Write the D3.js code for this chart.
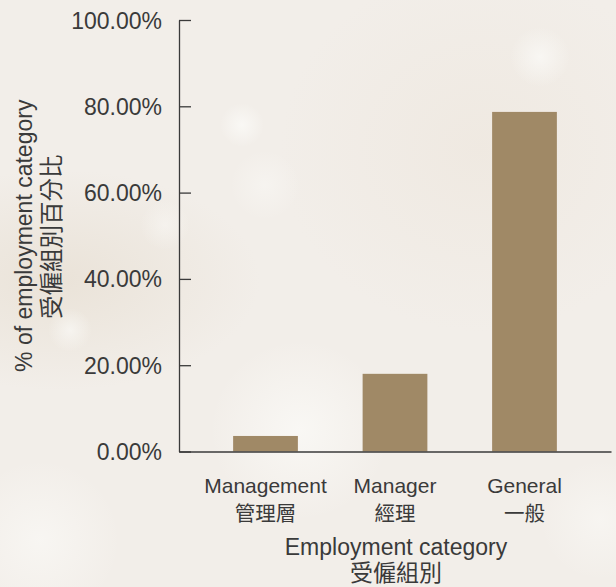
<!DOCTYPE html>
<html>
<head>
<meta charset="utf-8">
<script src="https://cdn.jsdelivr.net/npm/d3@7"></script>
<style>
  html, body { margin: 0; padding: 0; }
  body {
    width: 616px; height: 587px; overflow: hidden;
    background:
      radial-gradient(circle at 242px 125px, rgba(250,249,246,0.9) 0, rgba(250,249,246,0) 22px),
      radial-gradient(circle at 70px 330px, rgba(250,249,246,0.7) 0, rgba(250,249,246,0) 22px),
      radial-gradient(circle at 540px 57px, rgba(250,249,246,0.8) 0, rgba(250,249,246,0) 30px),
      radial-gradient(circle at 165px 225px, rgba(250,249,246,0.5) 0, rgba(250,249,246,0) 25px),
      radial-gradient(circle at 265px 185px, rgba(250,249,246,0.5) 0, rgba(250,249,246,0) 35px),
      radial-gradient(circle at 300px 430px, rgba(250,249,246,0.85) 0, rgba(250,249,246,0) 90px),
      radial-gradient(circle at 40px 540px, rgba(250,249,246,0.7) 0, rgba(250,249,246,0) 80px),
      radial-gradient(circle at 600px 520px, rgba(250,249,246,0.6) 0, rgba(250,249,246,0) 60px),
      radial-gradient(ellipse at 60px 280px, rgba(232,224,212,0.8) 0, rgba(232,224,212,0) 200px),
      radial-gradient(ellipse at 480px 150px, rgba(238,231,222,0.7) 0, rgba(238,231,222,0) 200px),
      #f2eee9;
  }
  svg { display: block; }
  text { fill: #3a3a3a; }
</style>
</head>
<body>
<svg id="chart" width="616" height="587"></svg>
<script>
// ---- data ----
const categoriesEn = ["Management", "Manager", "General"];
const categoriesZh = ["管理層", "經理", "一般"];
const shares = [0.036, 0.180, 0.787];
const yTicks = [0, 0.2, 0.4, 0.6, 0.8, 1.0];
const xTitle = ["Employment category", "受僱組別"];
const yTitle = ["% of employment category", "受僱組別百分比"];

const latin = "'Liberation Sans', Arial, Helvetica, sans-serif";
const cjk = "'Liberation Sans', 'Noto Sans CJK TC', 'Noto Sans CJK SC', sans-serif";
const barColor = "#a08966";
const axisColor = "#3a3a3a";

const svg = d3.select("#chart");

const x = d3.scaleBand()
  .domain(categoriesEn)
  .range([179, 611])
  .paddingInner(0.5)
  .paddingOuter(0.418);

const y = d3.scaleLinear()
  .domain([0, 1])
  .range([451.5, 20]);

// bars
svg.append("g")
  .selectAll("rect")
  .data(shares)
  .join("rect")
  .attr("x", (d, i) => x(categoriesEn[i]))
  .attr("width", x.bandwidth())
  .attr("y", d => y(d))
  .attr("height", d => y(0) - y(d))
  .attr("fill", barColor);

// y axis (ticks pointing inward)
const yAxis = svg.append("g")
  .attr("transform", `translate(${x.range()[0]},0)`)
  .call(d3.axisRight(y).tickValues(yTicks).tickFormat(d3.format(".2%")).tickSize(12).tickSizeOuter(0));
yAxis.select(".domain").attr("stroke", axisColor).attr("stroke-width", 1.3);
yAxis.selectAll(".tick line").attr("stroke", axisColor).attr("stroke-width", 1.3);
yAxis.selectAll(".tick text")
  .attr("x", -17)
  .attr("dy", "0.35em")
  .attr("text-anchor", "end")
  .attr("fill", "#3a3a3a")
  .style("font-family", latin)
  .style("font-size", "23px");

// x axis line
const xAxis = svg.append("g")
  .attr("transform", `translate(0,${y(0)})`)
  .call(d3.axisBottom(x).tickSize(0).tickSizeOuter(0).tickFormat(""));
xAxis.select(".domain").attr("stroke", axisColor).attr("stroke-width", 1.6);
xAxis.selectAll(".tick text").remove();

// category labels
const cat = svg.append("g");
cat.selectAll("text.en")
  .data(categoriesEn)
  .join("text")
  .attr("class", "en")
  .attr("x", d => x(d) + x.bandwidth() / 2)
  .attr("y", y(0) + 41)
  .attr("text-anchor", "middle")
  .style("font-family", latin)
  .style("font-size", "21px")
  .text(d => d);
cat.selectAll("text.zh")
  .data(categoriesZh)
  .join("text")
  .attr("class", "zh")
  .attr("x", (d, i) => x(categoriesEn[i]) + x.bandwidth() / 2)
  .attr("y", y(0) + 69)
  .attr("text-anchor", "middle")
  .style("font-family", cjk)
  .style("font-size", "20.5px")
  .text(d => d);

// x title
svg.append("text")
  .attr("x", 396)
  .attr("y", y(0) + 103.5)
  .attr("text-anchor", "middle")
  .style("font-family", latin)
  .style("font-size", "23px")
  .text(xTitle[0]);
svg.append("text")
  .attr("x", 396)
  .attr("y", y(0) + 129.5)
  .attr("text-anchor", "middle")
  .style("font-family", cjk)
  .style("font-size", "23px")
  .text(xTitle[1]);

// y title
const yMid = (y.range()[0] + y.range()[1]) / 2;
svg.append("text")
  .attr("transform", `translate(32,${yMid}) rotate(-90)`)
  .attr("text-anchor", "middle")
  .style("font-family", latin)
  .style("font-size", "23px")
  .text(yTitle[0]);
svg.append("text")
  .attr("transform", `translate(60,${yMid + 1}) rotate(-90)`)
  .attr("text-anchor", "middle")
  .style("font-family", cjk)
  .style("font-size", "23.5px")
  .text(yTitle[1]);
</script>
</body>
</html>
